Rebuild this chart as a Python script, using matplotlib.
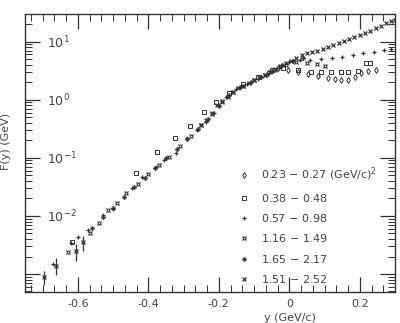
import numpy as np
import matplotlib
matplotlib.use("Agg")
import matplotlib.pyplot as plt
from matplotlib import ticker

# Data
# -----------------------------------------------------------------------------
labels = ["0.23 $-$ 0.27 (GeV/c)$^2$", "0.38 $-$ 0.48", "0.57 $-$ 0.98",
          "1.16 $-$ 1.49", "1.65 $-$ 2.17", "1.51 $-$ 2.52"]

y_a = [-0.06, -0.031, -0.003, 0.025, 0.054, 0.082, 0.11, 0.13, 0.146, 0.166,
       0.186, 0.203, 0.223, 0.245]
f_a = [2.9, 3.55, 3.3, 3.0, 2.8, 2.6, 2.4, 2.3, 2.2, 2.2,
       2.5, 2.9, 3.1, 3.3]

y_b = [-0.617, -0.434, -0.375, -0.324, -0.282, -0.242, -0.208, -0.17, -0.13,
       -0.09, -0.05, -0.017, 0.025, 0.062, 0.09, 0.118, 0.146, 0.166, 0.194,
       0.217, 0.228]
f_b = [3.5e-3, 0.055, 0.126, 0.22, 0.355, 0.62, 0.93, 1.3, 1.9,
       2.5, 3.2, 3.55, 3.3, 3.0, 3.0, 3.0, 3.0, 3.0, 3.16,
       4.3, 4.3]

y_c = [-0.67, -0.62, -0.60, -0.572, -0.53, -0.50, -0.445, -0.417, -0.377,
       -0.355, -0.321, -0.29, -0.262, -0.237, -0.214, -0.18, -0.15, -0.12,
       -0.09, -0.06, -0.03, 0.0, 0.03, 0.06, 0.09, 0.12, 0.15, 0.18, 0.21,
       0.24, 0.27, 0.29]
f_c = [1.5e-3, 3.4e-3, 4.4e-3, 5.7e-3, 0.0105, 0.0132, 0.030, 0.046, 0.069,
       0.093, 0.123, 0.22, 0.30, 0.42, 0.60, 1.1, 1.5, 1.85,
       2.3, 2.8, 3.5, 4.4, 4.8, 4.9, 5.1, 5.3, 5.5, 5.9, 6.3,
       6.7, 7.1, 7.6]

y_d = [-0.696, -0.662, -0.628, -0.606, -0.586, -0.566, -0.541, -0.515, -0.49,
       -0.462, -0.43, -0.40, -0.37, -0.34, -0.31, -0.28, -0.25, -0.22, -0.19,
       -0.16, -0.13, -0.10, -0.07, -0.04, -0.01, 0.02, 0.05, 0.08, 0.10]
f_d = [8.9e-4, 1.4e-3, 2.4e-3, 2.5e-3, 3.5e-3, 5.1e-3, 7.6e-3, 0.0125, 0.0166,
       0.025, 0.036, 0.052, 0.074, 0.105, 0.16, 0.24, 0.36, 0.56, 0.95,
       1.35, 1.75, 2.2, 2.7, 3.3, 4.0, 4.4, 4.3, 4.1, 3.8]
e_d = [2.5e-4, 4.5e-4, 0, 8e-4, 1.0e-3, 0, 0, 0, 0,
       0, 0, 0, 0, 0, 0, 0, 0, 0, 0,
       0, 0, 0, 0, 0, 0, 0, 0, 0, 0]

y_e = [-0.56, -0.53, -0.50, -0.47, -0.44, -0.41, -0.38, -0.35, -0.32, -0.29,
       -0.26, -0.23, -0.20, -0.17, -0.14, -0.11, -0.08, -0.05, -0.02, 0.01,
       0.04]
f_e = [6.3e-3, 9.5e-3, 0.0135, 0.021, 0.031, 0.045, 0.068, 0.098, 0.14, 0.21,
       0.31, 0.47, 0.78, 1.2, 1.65, 2.0, 2.5, 3.1, 3.9, 4.6,
       5.2]

y_f = [-0.25, -0.235, -0.22, -0.205, -0.19, -0.175, -0.16, -0.145, -0.13,
       -0.115, -0.10, -0.085, -0.07, -0.055, -0.04, -0.025, -0.01, 0.005,
       0.02, 0.035, 0.05, 0.065, 0.08, 0.095, 0.11, 0.125, 0.14, 0.155, 0.17,
       0.185, 0.2, 0.215, 0.23, 0.245, 0.26, 0.275, 0.29, 0.30]
f_f = [0.36, 0.45, 0.58, 0.80, 0.92, 1.12, 1.35, 1.58, 1.72,
       1.95, 2.15, 2.42, 2.70, 3.0, 3.4, 3.85, 4.3, 4.7,
       5.3, 5.8, 6.3, 6.6, 6.9, 7.5, 8.0, 8.6, 9.3, 10.1, 10.9,
       11.9, 12.9, 14.0, 15.4, 17.2, 18.6, 20.5, 22.5, 24.0]

# Figure
# -----------------------------------------------------------------------------
ink = "#333333"
plt.rc("font", family="DejaVu Sans", size=8)

fig = plt.figure(figsize=(4.0, 3.23), dpi=100)
ax = fig.add_axes([0.0625, 0.096, 0.925, 0.861])
ax.set_yscale("log")

ax.plot(y_a, f_a, "d", ms=3, mfc="none", mec=ink, mew=0.7, label=labels[0])
ax.plot(y_b, f_b, "s", ms=3.2, mfc="none", mec=ink, mew=0.7, label=labels[1])
ax.plot(y_c, f_c, "+", ms=3.2, mec=ink, mew=0.9, label=labels[2])
ax.errorbar(y_d, f_d, yerr=e_d, fmt="none", ecolor=ink, elinewidth=0.9, capsize=0)
ax.plot(y_d, f_d, ls="none", marker="$\u00a4$", ms=3, color=ink, mew=0.3,
        label=labels[3])
ax.plot(y_e, f_e, "P", ms=3.2, mfc=ink, mec=ink, mew=0.2, label=labels[4])
ax.plot(y_f, f_f, "x", ms=2.8, mec=ink, mew=0.9, label=labels[5])

ax.set_xlim(-0.75, 0.3)
ax.set_ylim(4.9e-4, 30)

ax.xaxis.set_major_locator(ticker.FixedLocator([-0.6, -0.4, -0.2, 0, 0.2]))
ax.xaxis.set_major_formatter(ticker.FixedFormatter(["-0.6", "-0.4", "-0.2", "0", "0.2"]))
ax.xaxis.set_minor_locator(ticker.AutoMinorLocator(6))
ax.yaxis.set_major_locator(ticker.LogLocator(base=10, numticks=10))
ax.yaxis.set_minor_locator(ticker.LogLocator(base=10, subs=np.arange(2, 10), numticks=10))
ax.yaxis.set_major_formatter(ticker.FuncFormatter(
    lambda v, p: "" if v < 5e-3 else "$10^{%d}$" % int(round(np.log10(v)))))
ax.yaxis.set_minor_formatter(ticker.NullFormatter())

ax.tick_params(which="both", direction="in", top=True, right=True, colors="#333333",
               labelcolor="#444444")
ax.tick_params(which="major", length=11, width=0.9)
ax.tick_params(which="minor", length=5, width=0.7)
ax.tick_params(axis="y", which="major", pad=-16, labelsize=9)
ax.tick_params(axis="x", which="major", pad=5)
for lab in ax.get_yticklabels():
    lab.set_horizontalalignment("left")
for sp in ax.spines.values():
    sp.set_color("#333333")
    sp.set_linewidth(1.0)

ax.set_xlabel("y (GeV/c)", color="#444444")
ax.xaxis.set_label_coords(0.716, -0.075)
ax.set_ylabel("F(y) (GeV)", color="#444444")
ax.yaxis.set_label_coords(-0.038, 0.54)

leg = ax.legend(loc="upper left", bbox_to_anchor=(0.565, 0.47), frameon=False,
                handlelength=1.0, handletextpad=1.0, labelspacing=0.75,
                fontsize=8, borderaxespad=0)
for t in leg.get_texts():
    t.set_color("#444444")

fig.savefig("out.png", dpi=100)
